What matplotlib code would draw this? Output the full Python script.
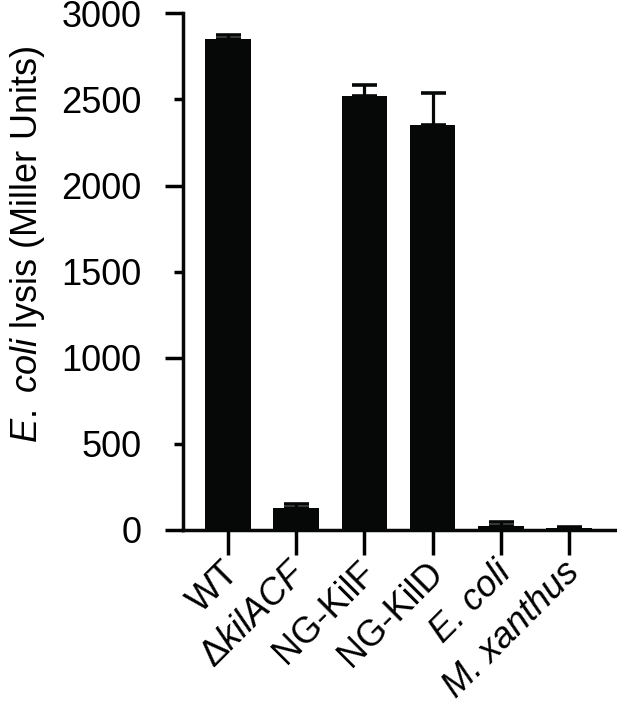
import matplotlib
matplotlib.use("Agg")
import matplotlib.pyplot as plt
import matplotlib.transforms as mtransforms
import numpy as np

plt.rcParams['font.family'] = ['Liberation Sans', 'DejaVu Sans']
plt.rcParams['mathtext.fontset'] = 'custom'
plt.rcParams['mathtext.rm'] = 'Liberation Sans'
plt.rcParams['mathtext.it'] = 'Liberation Sans:italic'

categories = ['WT', 'Δ$\\mathit{kilACF}$', 'NG-KilF', 'NG-KilD',
              'E. coli', 'M. xanthus']
italic_labels = ['E. coli', 'M. xanthus']
means = [2853, 128, 2521, 2349, 23, 14]
errors = [19, 22, 63, 187, 22, 6]

fig = plt.figure(figsize=(6.17, 7.07), dpi=100)
ax = fig.add_axes([0.2966, 0.2504, 0.9985 - 0.2966, 0.9812 - 0.2504])

x = np.arange(len(categories))
ax.bar(x, means, width=0.67, color='#060707', zorder=2)
ax.errorbar(x, means, yerr=[np.zeros(len(errors)), errors], fmt='none',
            ecolor='#060707', elinewidth=2.3, capsize=9, capthick=2.6, zorder=3)

ax.set_xlim(-0.66, 5.69)
ax.set_ylim(0, 3000)

for s in ['top', 'right']:
    ax.spines[s].set_visible(False)
for s in ['left', 'bottom']:
    ax.spines[s].set_linewidth(2.5)
    ax.spines[s].set_color('#060707')

ax.set_yticks([0, 1000, 2000, 3000])
ax.set_yticklabels(['0', '1000', '2000', '3000'])
ax.set_yticks([500, 1500, 2500], minor=True)
ax.set_yticklabels(['500', '1500', '2500'], minor=True)
ax.tick_params(axis='y', which='major', length=13, width=2.5, pad=17, labelsize=26)
ax.tick_params(axis='y', which='minor', length=6.5, width=2.5, pad=23.5, labelsize=26)

ax.set_xticks(x)
ticklabels = ax.set_xticklabels(categories, rotation=45, ha='right', rotation_mode='anchor')
ax.tick_params(axis='x', length=18, width=2.5, pad=2, labelsize=26)
shift = mtransforms.ScaledTranslation(-5 / 72, 2 / 72, fig.dpi_scale_trans)
for t, c in zip(ax.get_xticklabels(), categories):
    if c in italic_labels:
        t.set_fontstyle('italic')
    t.set_transform(t.get_transform() + shift)

ax.set_ylabel('$\\mathit{E.}$ $\\mathit{coli}$ lysis (Miller Units)', fontsize=26)
ax.yaxis.set_label_coords(-0.315, 0.553)

fig.savefig('out.png', dpi=100)
